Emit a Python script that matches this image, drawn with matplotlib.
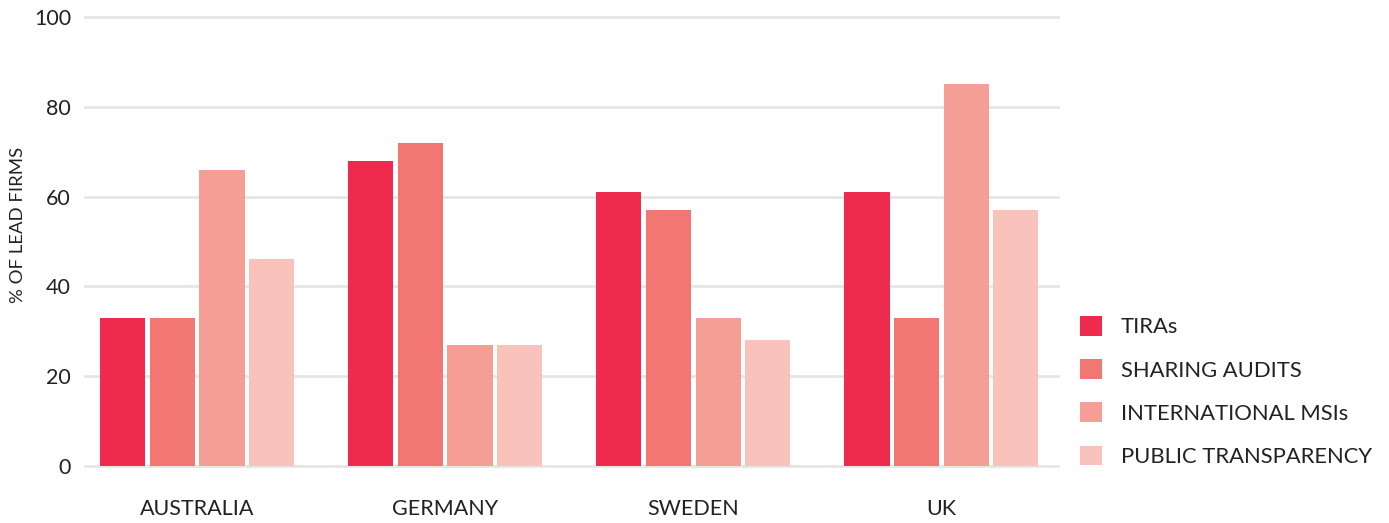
import matplotlib
matplotlib.use("Agg")
import matplotlib.pyplot as plt
import numpy as np
from matplotlib.patches import Patch

countries = ["AUSTRALIA", "GERMANY", "SWEDEN", "UK"]
series = ["TIRAs", "SHARING AUDITS", "INTERNATIONAL MSIs", "PUBLIC TRANSPARENCY"]
tiras = [33, 68, 61, 61]
sharing_audits = [33, 72, 57, 33]
international_msis = [66, 27, 33, 85]
public_transparency = [46, 27, 28, 57]
colors = ["#EE2B4D", "#F27773", "#F59E95", "#F9C2BA"]
yticks = [0, 20, 40, 60, 80, 100]

plt.rcParams['font.family'] = ['Lato', 'DejaVu Sans']

fig = plt.figure(figsize=(13.89, 5.23), dpi=100)
ax = fig.add_axes([85/1389, (523-466)/523, (1058-85)/1389, 449/523])

x = np.arange(len(countries))
width = 0.182
offsets = [-0.3, -0.1, 0.1, 0.3]
data = [tiras, sharing_audits, international_msis, public_transparency]
for vals, off, c, name in zip(data, offsets, colors, series):
    ax.bar(x + off, vals, width=width, color=c, label=name, zorder=3)

ax.set_xlim(-0.452, 3.47)
ax.set_ylim(0, 100)
ax.set_yticks(yticks)
ax.set_yticklabels([str(t) for t in yticks], fontsize=15.5, color="#222222")
ax.set_xticks(x)
ax.set_xticklabels(countries, fontsize=15.5, color="#222222")
ax.tick_params(axis='both', length=0)
ax.tick_params(axis='y', pad=10)
ax.tick_params(axis='x', pad=24)
ax.yaxis.grid(True, color="#E6E6E6", linewidth=2, zorder=0)
ax.set_axisbelow(True)
for gl in ax.get_ygridlines():
    gl.set_clip_on(False)
for s in ax.spines.values():
    s.set_visible(False)

fig.text(18/1389, 1 - 225/523, "% OF LEAD FIRMS", rotation=90, ha='center', va='center',
         fontsize=13.3, color="#222222")

handles = [Patch(facecolor=c, edgecolor='none') for c in colors]
leg = fig.legend(handles, series, loc='center left', bbox_to_anchor=(1080/1389, 1 - 391.5/523),
                 frameon=False, fontsize=15.8, handlelength=1.0, handleheight=1.0,
                 handletextpad=0.85, labelspacing=1.0, borderaxespad=0, borderpad=0)
for t in leg.get_texts():
    t.set_color("#222222")

fig.savefig("out.png", dpi=100)
